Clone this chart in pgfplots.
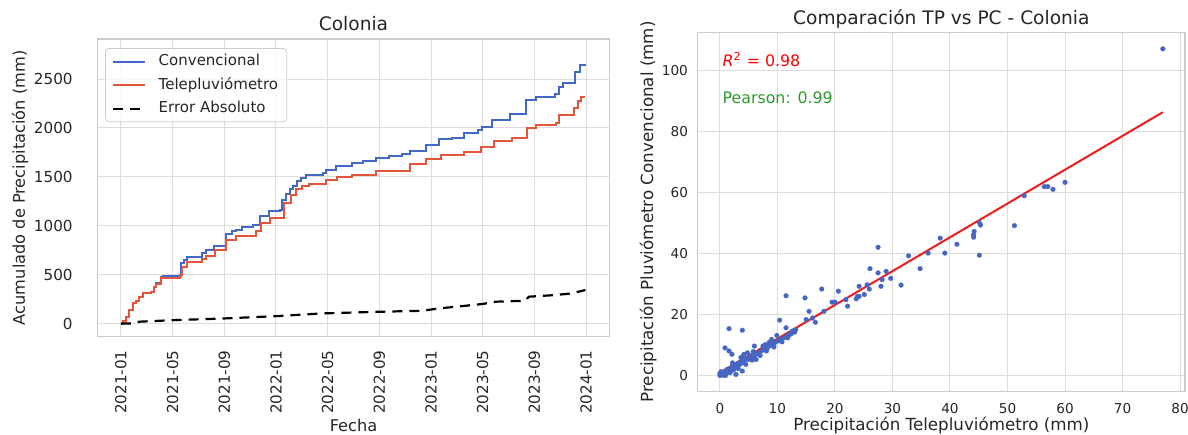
\documentclass[border=0pt]{standalone}
\usepackage{fontspec}
\setmainfont{DejaVu Sans}
\usepackage{pgfplots}
\pgfplotsset{compat=1.18}
\definecolor{txt}{HTML}{262626}
\definecolor{gridc}{HTML}{DDDDDD}
\definecolor{spine}{HTML}{CCCCCC}
\definecolor{conv}{HTML}{4468C8}
\definecolor{tele}{HTML}{E5553A}
\definecolor{dots}{HTML}{4666C4}
\definecolor{regr}{HTML}{EE1C1C}
\definecolor{pgreen}{HTML}{2E9A2E}
\begin{document}
\begin{tikzpicture}
\useasboundingbox (0pt,0pt) rectangle (594pt,217pt);
\pgfplotsset{
  base/.style={
    scale only axis, anchor=south west,
    axis line style={draw=spine, line width=0.6pt},
    grid=major, major grid style={draw=gridc, line width=0.5pt},
    major tick length=0pt,
    tick label style={text=txt, inner sep=0pt},
    /pgf/number format/assume math mode=true,
    /pgf/number format/1000 sep={},
    scaled ticks=false,
  }
}
% ---------------- left: cumulative precipitation
\begin{axis}[base,
  at={(48.85pt,48.65pt)}, width=255.8pt, height=148.85pt,
  xmin=-1.8, xmax=37.8, ymin=-135, ymax=2910,
  xtick={0,4,...,36},
  xticklabels={2021-01,2021-05,2021-09,2022-01,2022-05,2022-09,2023-01,2023-05,2023-09,2024-01},
  ytick={0,500,...,2500},
  xticklabel style={rotate=90, anchor=east, font=\fontsize{7.6}{9}\selectfont},
  yticklabel style={anchor=east, font=\fontsize{7.6}{9}\selectfont},
  xticklabel shift=6.65pt, yticklabel shift=12.35pt,
  title={Colonia},
  every axis title/.style={at={([yshift=4.5pt]axis description cs:0.5,1)}, anchor=base, font=\fontsize{9.3}{11}\selectfont, text=txt},
  xlabel={Fecha},
  every axis x label/.style={at={([yshift=-47.4pt]axis description cs:0.5,0)}, anchor=base, font=\fontsize{8.1}{10}\selectfont, text=txt},
  ylabel={Acumulado de Precipitación (mm)},
  every axis y label/.style={at={([xshift=-36.4pt]axis description cs:0,0.5)}, rotate=90, anchor=base, font=\fontsize{8.1}{10}\selectfont, text=txt},
  legend style={at={(axis description cs:0.0143,0.9697)}, anchor=north west,
    draw=spine, rounded corners=2pt, fill=white, fill opacity=0.8, text opacity=1,
    font=\fontsize{7.5}{9}\selectfont, text=txt,
    inner xsep=3.35pt, inner ysep=1.65pt, row sep=2pt, column sep=5.2pt,
    nodes={inner xsep=1pt, inner ysep=1pt, text height=6pt, text depth=1.8pt}},
  legend cell align=left,
  legend image code/.code={\draw[#1] (0pt,0pt) -- (16pt,0pt);},
]
\addplot[const plot, conv, line width=1pt] coordinates {
(0,0) (0.13,27) (0.39,68) (0.64,137) (0.90,205) (1.16,233) (1.42,274) (1.68,308)
(2.32,325) (2.58,370) (2.71,411) (3.09,473) (3.27,486) (4.64,616) (4.90,651) (5.08,678)
(6.31,719) (6.62,753) (7.22,788) (8.12,918) (8.58,942) (8.94,959) (9.36,986) (10.23,1010)
(10.75,1096) (11.47,1147) (12.29,1164) (12.5,1267) (12.76,1329) (13.07,1377) (13.32,1404)
(13.66,1455) (13.92,1490) (14.36,1517) (15.64,1541) (15.9,1575) (16.68,1610) (17.91,1637)
(18.74,1658) (19.72,1695) (20.75,1712) (21.78,1729) (22.35,1764) (23.63,1825) (24.61,1884)
(25.64,1901) (26.55,1945) (27.65,1979) (27.96,2014) (28.74,2082) (30.15,2140) (31.37,2288)
(32.09,2312) (33.63,2346) (33.89,2414) (34.2,2459) (35.13,2568) (35.57,2644) (35.95,2654)
};
\addlegendentry{Convencional}
\addplot[const plot, tele, line width=1pt] coordinates {
(0,0) (0.13,27) (0.39,68) (0.64,137) (0.90,205) (1.16,233) (1.42,274) (1.68,308)
(2.32,325) (2.58,370) (2.71,404) (3.09,462) (4.56,497) (4.72,582) (5.08,634) (6.31,658)
(6.57,692) (7.29,747) (8.12,856) (8.89,897) (10.44,942) (10.82,1027) (11.52,1079)
(12.63,1233) (13.14,1318) (13.58,1377) (14.05,1411) (14.56,1432) (15.85,1466) (16.75,1500)
(17.91,1514) (19.77,1558) (22.35,1627) (23.63,1678) (24.74,1723) (26.55,1753) (27.84,1808)
(28.87,1866) (30.28,1901) (31.44,2003) (32.09,2027) (33.69,2048) (33.94,2130) (35.05,2209)
(35.39,2277) (35.64,2312) (35.95,2312)
};
\addlegendentry{Telepluviómetro}
\addplot[black, line width=1.1pt, dash pattern=on 5pt off 3.5pt] coordinates {
(0,0) (0.9,0) (1.16,17) (4.0,34) (7.86,51) (11.98,75) (15.59,103) (19.97,120) (23.3,130)
(24.6,154) (26.4,178) (27.96,199) (28.99,223) (31.3,233) (31.57,274) (33.6,291)
(34.9,308) (35.4,325) (35.95,342)
};
\addlegendentry{Error Absoluto}
\end{axis}
% ---------------- right: scatter
\begin{axis}[base,
  at={(348.85pt,21.15pt)}, width=243.65pt, height=179.7pt,
  xmin=-3.85, xmax=80.85, ymin=-5.36, ymax=112.5,
  xtick={0,10,...,80}, ytick={0,20,...,100},
  xticklabel style={anchor=north, font=\fontsize{6.8}{8}\selectfont},
  yticklabel style={anchor=east, font=\fontsize{6.8}{8}\selectfont},
  xticklabel shift=5.65pt, yticklabel shift=4.7pt,
  title={Comparación TP vs PC - Colonia},
  every axis title/.style={at={([yshift=3.65pt]axis description cs:0.5,1)}, anchor=base, font=\fontsize{9.3}{11}\selectfont, text=txt},
  xlabel={Precipitación Telepluviómetro (mm)},
  every axis x label/.style={at={([yshift=-19.15pt]axis description cs:0.5,0)}, anchor=base, font=\fontsize{8.35}{10}\selectfont, text=txt},
  ylabel={Precipitación Pluviómetro Convencional (mm)},
  every axis y label/.style={at={([xshift=-22.35pt]axis description cs:0,0.5)}, rotate=90, anchor=base, font=\fontsize{8.35}{10}\selectfont, text=txt},
]
\addplot[only marks, mark=*, mark size=1.2pt, color=dots, mark options={solid, draw=dots, fill=dots, line width=0.1pt}] coordinates {
(0,0) (0.1,0.2) (0.2,0.5) (0.3,0.1) (0.5,0.8) (0.4,0.3) (0.6,1.0) (0.8,0.5) (1.0,1.2)
(1.2,1.5) (1.5,1.0) (1.3,2.0) (1.8,2.2) (2.0,1.6) (2.2,2.5) (2.5,3.0) (2.8,2.6) (3.0,3.4)
(3.2,4.0) (3.5,3.6) (3.8,4.5) (4.0,4.2) (4.3,5.0) (4.6,5.4) (5.0,5.2) (5.3,6.0) (5.5,6.5)
(6.0,6.2) (6.3,7.0) (6.8,7.5) (7.2,8.0) (7.8,8.4) (8.3,9.0) (8.8,9.8) (9.2,10.2) (9.6,10.8)
(10.1,11.3) (10.6,11.8) (11.2,12.4) (11.8,13.0) (12.4,13.6) (13.0,14.2)
(1.0,0.0) (1.8,0.9) (3.2,2.2) (4.5,3.6) (5.6,5.0) (7.0,6.5) (0.2,1.2) (0.0,0.6) (0.7,0.0)
(2.4,1.8) (4.0,6.2) (5.8,7.8) (9.4,9.3) (10.8,11.0)
(0.9,9.0) (1.6,15.3) (3.9,14.8) (1.6,8.0) (2.1,6.9) (2.2,3.1) (2.8,0.3) (3.9,1.4) (2.2,4.1)
(3.65,5.8) (4.2,6.9) (4.8,7.4) (6.3,5.2) (6.0,9.6) (7.5,9.6) (8.1,8.0) (7.9,10.1) (8.6,10.9)
(9.0,11.8) (9.9,13.1) (11.8,12.3) (12.1,13.4) (12.6,14.5) (13.2,15.0) (10.4,18.1) (11.5,15.6)
(11.5,26.1) (14.8,25.4) (15.5,21.0) (15.0,18.3) (16.1,18.8) (16.6,17.4) (17.7,28.3) (18.1,21.0)
(19.5,24.0) (20.0,24.0) (20.6,27.6) (21.9,24.8) (22.2,22.7) (23.7,25.1) (23.9,25.9) (24.2,25.9)
(25.1,26.5) (24.2,29.2) (25.6,29.7) (25.97,28.3) (26.1,35.0) (28.0,29.2) (27.5,42.0) (27.5,33.6)
(28.2,31.4) (28.9,34.1) (29.7,31.8) (31.5,29.6) (32.8,39.2) (34.8,35.0) (36.2,40.1) (38.3,45.0)
(39.1,40.1) (41.2,43.0) (45.1,39.4) (44.1,45.3) (44.1,46.1) (44.2,47.2) (45.1,50.1) (45.3,49.3)
(51.2,49.1) (52.9,58.9) (56.4,61.9) (57.0,61.9) (57.9,61.0) (60.0,63.3) (77.0,107.1)
};
\addplot[regr, line width=1pt] coordinates {(0,0.9) (77,86.3)};
\node[anchor=base west, inner sep=0pt, text=red, font=\fontsize{7.9}{9}\selectfont] at (axis description cs:0.0505,0.906) {\textit{R}\textsuperscript{2} = 0.98};
\node[anchor=base west, inner sep=0pt, text=pgreen, font=\fontsize{7.9}{9}\selectfont] at (axis description cs:0.0505,0.8005) {Pearson: 0.99};
\end{axis}
\end{tikzpicture}
\end{document}
